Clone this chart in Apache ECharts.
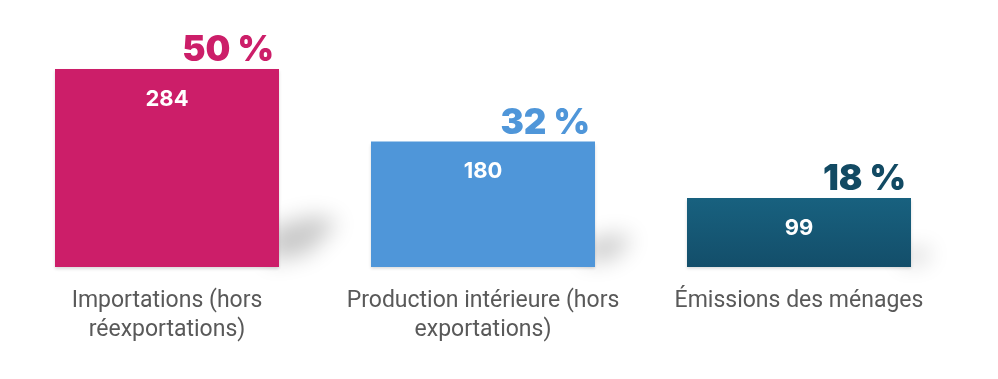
<!DOCTYPE html>
<html>
<head>
<meta charset="utf-8">
<script src="https://cdn.jsdelivr.net/npm/echarts@6/dist/echarts.min.js"></script>
<style>html,body{margin:0;padding:0;background:#fff}#c{width:998px;height:379px}</style>
</head>
<body>
<div id="c"></div>
<script>
const categories = ["Importations (hors\nréexportations)", "Production intérieure (hors\nexportations)", "Émissions des ménages"];
const values = [284, 180, 99];
const percents = [50, 32, 18];

const colors = [
  '#cc1e69',
  '#4f96d9',
  new echarts.graphic.LinearGradient(0, 0, 0, 1, [{offset: 0, color: '#18617f'}, {offset: 1, color: '#134e6a'}])
];
const pctColors = ['#cc1e69', '#4f96d9', '#124a63'];
const BAR_W = 224;

const chart = echarts.init(document.getElementById('c'));
chart.setOption({
  animation: false,
  grid: {left: 9, right: 41, top: 69, bottom: 112},
  xAxis: {
    type: 'category', data: categories,
    axisLine: {show: false}, axisTick: {show: false},
    axisLabel: {color: '#595959', fontFamily: 'Roboto, sans-serif', fontSize: 23, lineHeight: 29, margin: 20, interval: 0}
  },
  yAxis: {type: 'value', min: 0, max: 284, show: false, splitLine: {show: false}},
  series: [
    {
      type: 'custom', z: 1, silent: true,
      data: values.map((v, i) => [i, v]),
      renderItem: function (params, api) {
        const top = api.coord([api.value(0), api.value(1)]);
        const base = api.coord([api.value(0), 0]);
        const h = base[1] - top[1];
        const xR = top[0] + BAR_W / 2;
        const L = h * 0.3;
        const hs = h * 0.2;
        const dx = L + 30;
        const b = base[1];
        const pts = [
          [xR - 10 - dx, b - 5],
          [xR - 10 - dx, b - hs],
          [xR + L * 0.6 - dx, b - hs * 1.3],
          [xR + L - dx, b - hs * 1.15],
          [xR + L * 0.5 - dx, b - hs * 0.35]
        ];
        return {
          type: 'polygon',
          shape: {points: pts},
          style: {fill: 'rgba(0,0,0,0.6)', shadowColor: 'rgba(0,0,0,0.36)', shadowBlur: 22, shadowOffsetX: dx, shadowOffsetY: 0}
        };
      }
    },
    {
      type: 'bar', z: 2, barWidth: BAR_W,
      data: values.map((v, i) => ({value: v, itemStyle: {color: colors[i]}, label: {color: pctColors[i]}})),
      itemStyle: {shadowColor: 'rgba(0,0,0,0.15)', shadowBlur: 3, shadowOffsetY: 2},
      label: {
        show: true, position: 'top', align: 'right', offset: [107, 3], distance: 4,
        fontFamily: 'Inter, Lato, sans-serif', fontWeight: 900, fontSize: 35,
        formatter: p => percents[p.dataIndex] + ' %'
      }
    },
    {
      type: 'bar', z: 3, barWidth: BAR_W, barGap: '-100%', silent: true,
      data: values,
      itemStyle: {color: 'rgba(0,0,0,0)'},
      label: {
        show: true, position: 'insideTop', distance: 19, color: '#ffffff',
        fontFamily: 'Inter, Roboto, sans-serif', fontWeight: 'bold', fontSize: 22
      }
    }
  ]
});
</script>
</body>
</html>
